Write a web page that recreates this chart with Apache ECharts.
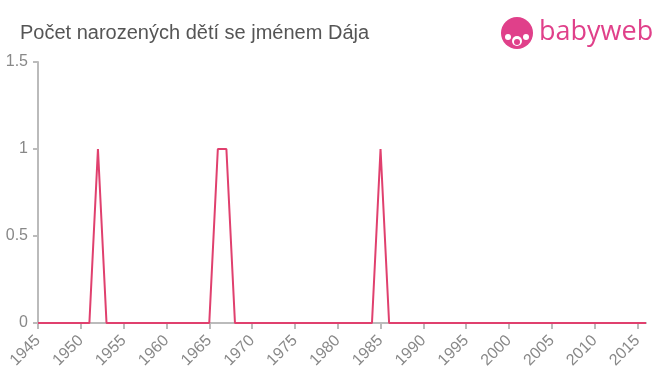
<!DOCTYPE html>
<html><head><meta charset="utf-8">
<script src="https://cdn.jsdelivr.net/npm/echarts@6/dist/echarts.min.js"></script>
<style>html,body{margin:0;padding:0;background:#fff}#c{width:660px;height:375px}</style>
</head><body><div id="c"></div>
<script>
const title = "Počet narozených dětí se jménem Dája";
const years = [1945,1946,1947,1948,1949,1950,1951,1952,1953,1954,1955,1956,1957,1958,1959,1960,1961,1962,1963,1964,1965,1966,1967,1968,1969,1970,1971,1972,1973,1974,1975,1976,1977,1978,1979,1980,1981,1982,1983,1984,1985,1986,1987,1988,1989,1990,1991,1992,1993,1994,1995,1996,1997,1998,1999,2000,2001,2002,2003,2004,2005,2006,2007,2008,2009,2010,2011,2012,2013,2014,2015,2016];
const counts = [0,0,0,0,0,0,0,1,0,0,0,0,0,0,0,0,0,0,0,0,0,1,1,0,0,0,0,0,0,0,0,0,0,0,0,0,0,0,0,0,1,0,0,0,0,0,0,0,0,0,0,0,0,0,0,0,0,0,0,0,0,0,0,0,0,0,0,0,0,0,0,0];
const yTicks = [0, 0.5, 1, 1.5];
const FONT = '"Liberation Sans", Arial, Helvetica, sans-serif';

const chart = echarts.init(document.getElementById('c'), null, {renderer:'canvas'});
chart.setOption({
  animation:false,
  title:{text:title, left:15, top:18, textStyle:{fontFamily:FONT, fontSize:20, fontWeight:'normal', color:'#555'}},
  grid:{left:38, right:14, top:62, bottom:52, containLabel:false},
  xAxis:{type:'value', min:1945, max:2016, interval:5,
    axisLine:{lineStyle:{color:'#bbb', width:2}},
    axisTick:{show:true, length:6, lineStyle:{color:'#bbb', width:2}},
    axisLabel:{rotate:45, color:'#888', fontSize:16, fontFamily:FONT, margin:15, showMaxLabel:false,
      formatter:function(v){return String(v);}},
    splitLine:{show:false}},
  yAxis:{type:'value', min:0, max:1.5, interval:0.5,
    axisLine:{show:true, lineStyle:{color:'#bbb', width:2}},
    axisTick:{show:true, length:5, lineStyle:{color:'#bbb', width:2}},
    axisLabel:{color:'#888', fontSize:16, fontFamily:FONT, margin:10,
      formatter:function(v){return yTicks.indexOf(v)>=0 ? String(v) : '';}},
    splitLine:{show:false}},
  series:[{type:'line', data:years.map((y,i)=>[y,counts[i]]), symbol:'none',
    lineStyle:{color:'#e0406e', width:2}, itemStyle:{color:'#e0406e'}}],
  graphic:[
    {type:'circle', shape:{cx:517, cy:33, r:16}, style:{fill:'#e0408a'}},
    {type:'circle', shape:{cx:517, cy:41, r:5}, style:{fill:'#fff'}},
    {type:'circle', shape:{cx:508, cy:37, r:3}, style:{fill:'#fff'}},
    {type:'circle', shape:{cx:526, cy:37, r:3}, style:{fill:'#fff'}},
    {type:'circle', shape:{cx:517, cy:42, r:3}, style:{fill:'#e0408a'}},
    {type:'text', left:539, top:19, style:{text:'babyweb', fill:'#e0408a', font:'27px "Open Sans", Roboto, sans-serif'}}
  ]
});
</script></body></html>
